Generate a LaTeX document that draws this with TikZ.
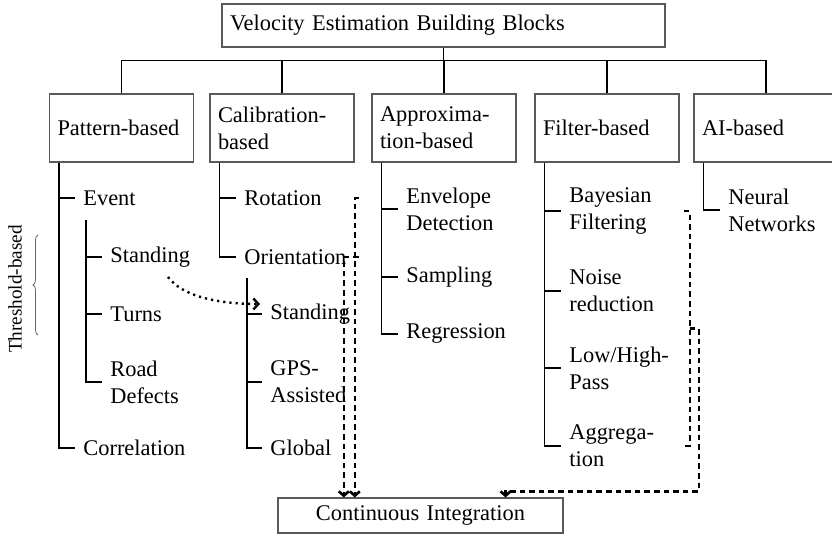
\documentclass[tikz,border=0pt]{standalone}
\usepackage{fontspec}
\setmainfont{Liberation Serif}
\usetikzlibrary{calc,arrows.meta,decorations.pathreplacing}

\begin{document}
\begin{tikzpicture}[x=0.5pt,y=-0.5pt,
  font=\fontsize{11.2}{13.5}\selectfont,
  box/.style={draw=black!65,line width=0.55pt,inner xsep=4pt,inner ysep=0pt,align=left},
  rootbox/.style={box,minimum width=221.5pt,minimum height=21.5pt,text width=213.5pt},
  catbox/.style={box,minimum width=72pt,minimum height=34pt,text width=64pt},
  cibox/.style={box,align=center,minimum width=142.5pt,minimum height=17.5pt,text width=134.5pt},
  item/.style={anchor=west,inner xsep=4pt,inner ysep=0pt,text width=53pt,align=left},
  tree/.style={line width=0.9pt},
  dashlink/.style={line width=1.3pt,dash pattern=on 2.8pt off 2pt},
  link/.style={dashlink,-{Straight Barb[length=2.2pt,width=5pt]}},
  hint/.style={line width=1.2pt,dash pattern=on 1.1pt off 2pt,-{Straight Barb[length=2.5pt,width=5.5pt]}},
]
\useasboundingbox (0,0) rectangle (832,534);

% root and categories
\node[rootbox] (root) at (443.5,25.5) {Velocity Estimation Building Blocks};
\node[catbox] (pat) at (121.5,128) {Pattern-based};
\node[catbox] (cal) at (282,128) {Calibration-\\based};
\node[catbox] (apx) at (444,128) {Approxima-\\tion-based};
\node[catbox] (fil) at (607,128) {Filter-based};
\node[catbox] (ai)  at (766,128) {AI-based};

\foreach \c in {pat,cal,apx,fil,ai}
  \draw[tree] (root.south) -- ++(0,13) -| (\c.north);

% pattern-based items
\node[item] (ev)   at (75,198)  {Event};
\node[item] (pstd) at (102,257) {Standing};
\node[item] (trn)  at (102,314) {Turns};
\node[item] (road) at (102,382) {Road\\Defects};
\node[item] (corr) at (75,448)  {Correlation};

% calibration-based items
\node[item] (rot)  at (236,198) {Rotation};
\node[item] (ori)  at (236,257) {Orientation};
\node[item] (cstd) at (262,314) {Standing};
\node[item] (gps)  at (262,382) {GPS-\\Assisted};
\node[item] (glob) at (262,448) {Global};

% approximation-based items
\node[item] (env)  at (398,209) {Envelope\\Detection};
\node[item] (samp) at (398,277) {Sampling};
\node[item] (reg)  at (398,334) {Regression};

% filter-based items
\node[item] (bay)  at (561,211) {Bayesian\\Filtering};
\node[item] (nse)  at (561,291) {Noise\\reduction};
\node[item] (low)  at (561,368) {Low/High-\\Pass};
\node[item] (agg)  at (561,446) {Aggrega-\\tion};

% AI-based items
\node[item] (nn)   at (720,210) {Neural\\Networks};

% tree lines
\coordinate (pv)  at ([xshift=5pt]pat.south west);
\coordinate (cv)  at ([xshift=5pt]cal.south west);
\coordinate (av)  at ([xshift=5pt]apx.south west);
\coordinate (fv)  at ([xshift=5pt]fil.south west);
\coordinate (aiv) at ([xshift=5pt]ai.south west);
\coordinate (psub) at (86,220);
\coordinate (csub) at (247,278);

\draw[tree] (pv) |- (corr.west);
\draw[tree] (pv |- ev.west) -- (ev.west);
\draw[tree] (psub) |- (road.west);
\foreach \n in {pstd,trn} \draw[tree] (psub |- \n.west) -- (\n.west);

\draw[tree] (cv) |- (ori.west);
\draw[tree] (cv |- rot.west) -- (rot.west);
\draw[tree] (csub) |- (glob.west);
\foreach \n in {cstd,gps} \draw[tree] (csub |- \n.west) -- (\n.west);

\draw[tree] (av) |- (reg.west);
\foreach \n in {env,samp} \draw[tree] (av |- \n.west) -- (\n.west);

\draw[tree] (fv) |- (agg.west);
\foreach \n in {bay,nse,low} \draw[tree] (fv |- \n.west) -- (\n.west);

\draw[tree] (aiv) |- (nn.west);

% integration target
\node[cibox] (ci) at (420.5,515.5) {Continuous Integration};
\coordinate (ciin) at ([xshift=-29pt]ci.north east);
\coordinate (cia) at ([yshift=3pt]ciin);

% dashed links into integration
\draw[link] (rot.east) -- ++(-4,0) coordinate (r1) -- (r1 |- ci.north);
\draw[link] (ori.east) -- ++(-15,0) coordinate (o1) -- (o1 |- ci.north);
\draw[dashlink] (bay.east) -- ++(6,0) coordinate (b1) -- (b1 |- agg.east) -- (agg.east);
\coordinate (bm) at ($(b1)!0.5!(b1 |- agg.east)$);
\draw[link] (bm) -- ++(9,0) coordinate (b2) -- (b2 |- cia) -- (cia) -- (ciin);

% dotted hint between the two standing items
\coordinate (hs) at ($(pstd.west)+(66,20)$);
\coordinate (he) at ($(cstd.west)+(-2,-10)$);
\draw[hint] (hs) .. controls +(15,20) and +(-40,0) .. (he);

% threshold brace
\coordinate (thrbot) at (38,335);
\coordinate (thrtop) at (38,235);
\draw[draw=black!60,line width=0.4pt,decorate,decoration={brace,amplitude=2.5pt}] (thrbot) -- (thrtop);
\node[rotate=90,font=\fontsize{9.6}{11}\selectfont] (thr) at (15,289) {Threshold-based};
\end{tikzpicture}
\end{document}
